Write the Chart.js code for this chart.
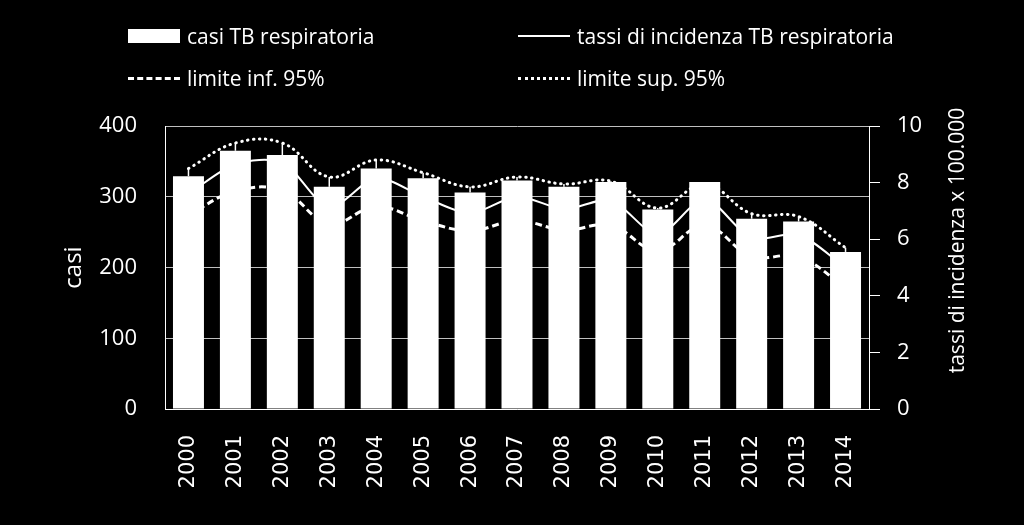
<!DOCTYPE html>
<html>
<head>
<meta charset="utf-8">
<script src="https://cdn.jsdelivr.net/npm/chart.js@4"></script>
<style>
  html, body { margin: 0; padding: 0; background: #000; }
  #wrap { position: relative; width: 1024px; height: 525px; }
  #legend { position: absolute; left: 128px; top: 22px; display: grid;
    grid-template-columns: 390px auto; row-gap: 14px;
    font: 21px 'Open Sans', sans-serif; color: #fff; }
  .item { display: flex; align-items: center; height: 28px; white-space: nowrap; }
  .sw { width: 52px; margin-right: 7px; }
</style>
</head>
<body>
<div id="wrap">
  <canvas id="chart"></canvas>
  <div id="legend"></div>
</div>
<script>
// ─── Dati ────────────────────────────────────────────────────────────────────
const anni = ['2000', '2001', '2002', '2003', '2004', '2005', '2006', '2007',
  '2008', '2009', '2010', '2011', '2012', '2013', '2014'];
const casi = [329, 365, 359, 314, 340, 326, 306, 323, 314, 321, 282, 321, 269, 265, 222];
const tassi = [7.6, 8.65, 8.7, 7.15, 8.15, 7.5, 6.92, 7.5, 7.07, 7.36, 6.18, 7.4, 6.05, 6.15, 5.0];
const limInf = [6.85, 7.7, 7.72, 6.55, 7.15, 6.65, 6.3, 6.65, 6.33, 6.48, 5.6, 6.48, 5.4, 5.37, 4.3];
const limSup = [8.5, 9.4, 9.4, 8.2, 8.8, 8.35, 7.85, 8.2, 7.95, 8.05, 7.1, 7.95, 6.9, 6.8, 5.7];
const ticksCasi = [0, 100, 200, 300, 400];
const ticksTassi = [0, 2, 4, 6, 8, 10];

const WHITE = '#ffffff';
const GRID = '#bfbfbf';
const tickFont = { family: "'Open Sans', sans-serif", size: 22 };

// linee verticali tra limite sup. e cima della barra
const dropLines = {
  id: 'dropLines',
  afterDatasetsDraw(chart) {
    const bars = chart.getDatasetMeta(0).data;
    const sup = chart.getDatasetMeta(3).data;
    const ctx = chart.ctx;
    ctx.save();
    ctx.strokeStyle = WHITE;
    ctx.lineWidth = 1.5;
    bars.forEach((b, i) => {
      const p = sup[i];
      if (!p || p.y >= b.y) return;
      ctx.beginPath();
      ctx.moveTo(b.x, b.y);
      ctx.lineTo(b.x, p.y);
      ctx.stroke();
    });
    ctx.restore();
  },
};

// titolo asse destro, letto dal basso verso l'alto
const rightTitle = {
  id: 'rightTitle',
  afterDraw(chart) {
    const s = chart.scales.y1;
    const ctx = chart.ctx;
    ctx.save();
    ctx.translate(s.right - 66, (s.top + s.bottom) / 2 - 27);
    ctx.rotate(-Math.PI / 2);
    ctx.fillStyle = WHITE;
    ctx.font = "21px 'Open Sans', sans-serif";
    ctx.textAlign = 'center';
    ctx.textBaseline = 'middle';
    ctx.fillText('tassi di incidenza x 100.000', 0, 0);
    ctx.restore();
  },
};

const chart = new Chart(document.getElementById('chart'), {
  data: {
    labels: anni,
    datasets: [
      {
        type: 'bar', label: 'casi TB respiratoria', data: casi, yAxisID: 'y',
        backgroundColor: WHITE, borderWidth: 0,
        barPercentage: 0.66, categoryPercentage: 1, order: 0,
      },
      {
        type: 'line', label: 'tassi di incidenza TB respiratoria', data: tassi, yAxisID: 'y1',
        borderColor: WHITE, borderWidth: 2, pointRadius: 0, tension: 0.3, order: 1,
      },
      {
        type: 'line', label: 'limite inf. 95%', data: limInf, yAxisID: 'y1',
        borderColor: WHITE, borderWidth: 3, borderDash: [7, 4], pointRadius: 0,
        tension: 0.4, order: 2,
      },
      {
        type: 'line', label: 'limite sup. 95%', data: limSup, yAxisID: 'y1',
        borderColor: WHITE, borderWidth: 3, borderDash: [0.5, 5.5], borderCapStyle: 'round',
        pointRadius: 0, tension: 0.4, order: 3,
      },
    ],
  },
  options: {
    responsive: true,
    maintainAspectRatio: false,
    animation: false,
    layout: { padding: { top: 126, left: 0, right: 0, bottom: 0 } },
    plugins: { legend: { display: false }, tooltip: { enabled: false } },
    scales: {
      x: {
        grid: { display: false },
        border: { color: WHITE, width: 1 },
        ticks: {
          color: WHITE, font: { family: "'DejaVu Sans', sans-serif", size: 21 },
          minRotation: 90, maxRotation: 90, padding: 18,
        },
        afterFit: s => { s.height = 116; },
      },
      y: {
        position: 'left', min: 0, max: 400,
        afterBuildTicks: s => { s.ticks = ticksCasi.map(v => ({ value: v })); },
        grid: { color: GRID, lineWidth: 1, drawTicks: false },
        border: { color: WHITE, width: 1 },
        ticks: { color: WHITE, font: tickFont, padding: 28 },
        title: {
          display: true, text: 'casi', color: WHITE,
          font: { family: "'Open Sans', sans-serif", size: 24 },
          padding: { top: 60, bottom: 0 },
        },
        afterFit: s => { s.width = 165; },
      },
      y1: {
        position: 'right', min: 0, max: 10,
        afterBuildTicks: s => { s.ticks = ticksTassi.map(v => ({ value: v })); },
        grid: { drawOnChartArea: false, color: WHITE, tickLength: 11 },
        border: { color: WHITE, width: 1 },
        ticks: { color: WHITE, font: tickFont, padding: 17 },
        afterFit: s => { s.width = 155; },
      },
    },
  },
  plugins: [dropLines, rightTitle],
});

// ─── Legenda HTML (2 x 2) ────────────────────────────────────────────────────
const swatch = ds => {
  if (ds.type === 'bar') return 'height:14px;background:#fff';
  if (ds.borderDash && ds.borderDash[0] < 1) return 'border-top:3px dotted #fff';
  if (ds.borderDash) return 'border-top:3px dashed #fff';
  return 'border-top:2px solid #fff';
};
const leg = document.getElementById('legend');
leg.innerHTML = chart.data.datasets
  .map(ds => `<div class="item"><div class="sw" style="${swatch(ds)}"></div>${ds.label}</div>`)
  .join('');
</script>
</body>
</html>
